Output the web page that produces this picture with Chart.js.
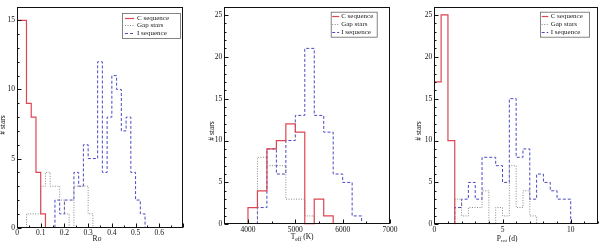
<!DOCTYPE html>
<html>
<head>
<meta charset="utf-8">
<script src="https://cdn.jsdelivr.net/npm/chart.js@4.4.1/dist/chart.umd.min.js"></script>
<style>
    body { margin: 0; background: #fff; }
    canvas { position: absolute; top: 0; }
</style>
</head>
<body>
<canvas id="roChart" width="200" height="242" style="left:0px"></canvas>
<canvas id="teffChart" width="200" height="242" style="left:200px"></canvas>
<canvas id="protChart" width="200" height="242" style="left:400px"></canvas>
<script>
// Rossby number histogram (bin width 0.02)
var roBins = [0, 0.02, 0.04, 0.06, 0.08, 0.10, 0.12, 0.14, 0.16, 0.18, 0.20, 0.22, 0.24, 0.26,
              0.28, 0.30, 0.32, 0.34, 0.36, 0.38, 0.40, 0.42, 0.44, 0.46, 0.48, 0.50, 0.52];
var roBinWidth = 0.02;
var roC   = [15, 15, 9, 8, 4, 1, 0, 0, 0, 0, 0, 0, 0, 0, 0, 0, 0, 0, 0, 0, 0, 0, 0, 0, 0, 0, 0];
var roGap = [0, 0, 1, 1, 1, 3, 4, 3, 3, 2, 1, 0, 3, 3, 3, 1, 0, 0, 0, 0, 0, 0, 0, 0, 0, 0, 0];
var roI   = [0, 0, 0, 0, 0, 0, 0, 0, 2, 1, 2, 2, 4, 3, 6, 5, 5, 12, 4, 8, 11, 10, 7, 8, 4, 2, 1];
var roXTicks = [0, 0.1, 0.2, 0.3, 0.4, 0.5, 0.6];
var roYTicks = [0, 5, 10, 15];

// Teff histogram (bin width 200 K)
var teffBins = [4000, 4200, 4400, 4600, 4800, 5000, 5200, 5400, 5600, 5800, 6000, 6200];
var teffBinWidth = 200;
var teffC   = [2, 4, 9, 10, 12, 11, 0, 3, 1, 0, 0, 0];
var teffGap = [0, 8, 7, 7, 3, 3, 1, 0, 0, 0, 0, 0];
var teffI   = [0, 2, 9, 6, 10, 13, 21, 13, 11, 6, 5, 1];
var teffXTicks = [4000, 5000, 6000, 7000];
var teffYTicks = [0, 5, 10, 15, 20, 25];

// Rotation period histogram (bin width 0.5 d)
var protBins = [0, 0.5, 1, 1.5, 2, 2.5, 3, 3.5, 4, 4.5, 5, 5.5, 6, 6.5, 7, 7.5, 8, 8.5, 9, 9.5];
var protBinWidth = 0.5;
var protC   = [17, 25, 10, 0, 0, 0, 0, 0, 0, 0, 0, 0, 0, 0, 0, 0, 0, 0, 0, 0];
var protGap = [0, 0, 0, 3, 1, 2, 2, 4, 0, 2, 1, 7, 2, 4, 1, 0, 0, 0, 0, 0];
var protI   = [0, 0, 0, 2, 3, 5, 3, 8, 8, 7, 5, 15, 8, 9, 3, 6, 5, 4, 3, 3];
var protXTicks = [0, 5, 10];
var protYTicks = [0, 5, 10, 15, 20, 25];

var seriesNames = ['C sequence', 'Gap stars', 'I sequence'];

var SERIF = '"Liberation Serif", "DejaVu Serif", serif';
var RED = '#dc4652';
var GRAY = '#8a8a8a';
var BLUE = '#4a4ac4';

// turn bin counts into step outline points
function histPoints(bins, width, counts) {
    var first = -1, last = -1;
    for (var i = 0; i < counts.length; i++) {
        if (counts[i] > 0) {
            if (first < 0) first = i;
            last = i;
        }
    }
    var pts = [{ x: bins[first], y: 0 }];
    for (var j = first; j <= last; j++) {
        pts.push({ x: bins[j], y: counts[j] });
    }
    pts.push({ x: bins[last] + width, y: 0 });
    return pts;
}

// frame, inward ticks, boxed legend and axis titles
var decorPlugin = {
    id: 'decor',
    afterDraw: function (chart, args, o) {
        var ctx = chart.ctx;
        var a = chart.chartArea;
        var xs = chart.scales.x, ys = chart.scales.y;
        var L = Math.round(a.left) + 0.5, R = Math.round(a.right) - 0.5;
        var T = Math.round(a.top) + 0.5, B = Math.round(a.bottom) - 0.5;
        ctx.save();
        ctx.strokeStyle = '#111';
        ctx.lineWidth = 1;
        ctx.strokeRect(L, T, R - L, B - T);

        ctx.beginPath();
        var v, px;
        for (v = xs.min; v <= xs.max + 1e-9; v += o.xMinor) {
            px = Math.round(xs.getPixelForValue(v)) + 0.5;
            var major = Math.abs(v / o.xMajor - Math.round(v / o.xMajor)) < 1e-6;
            ctx.moveTo(px, B);
            ctx.lineTo(px, B - (major ? 4 : 2));
        }
        for (v = ys.min; v <= ys.max + 1e-9; v += o.yMinor) {
            px = Math.round(ys.getPixelForValue(v)) + 0.5;
            var ymajor = Math.abs(v / o.yMajor - Math.round(v / o.yMajor)) < 1e-6;
            ctx.moveTo(L, px);
            ctx.lineTo(L + (ymajor ? 4 : 2), px);
        }
        ctx.stroke();

        // legend box
        var lg = o.legend;
        ctx.lineWidth = 0.8;
        ctx.strokeStyle = '#666';
        ctx.strokeRect(lg.x + 0.5, lg.y + 0.5, lg.w, lg.h);
        ctx.font = '7px ' + SERIF;
        ctx.textBaseline = 'middle';
        ctx.textAlign = 'left';
        chart.data.datasets.forEach(function (ds, i) {
            var y = Math.round(lg.y + lg.rows[i]) + 0.5;
            ctx.beginPath();
            ctx.strokeStyle = ds.borderColor;
            ctx.lineWidth = ds.borderWidth;
            ctx.setLineDash(ds.borderDash || []);
            ctx.moveTo(lg.x + lg.s0, y);
            ctx.lineTo(lg.x + lg.s1, y);
            ctx.stroke();
            ctx.setLineDash([]);
            ctx.fillStyle = '#222';
            ctx.fillText(ds.label, lg.x + lg.t, y);
        });

        // x title with optional subscript
        var xt = o.xTitle;
        var bigFont = '7.5px ' + SERIF, smallFont = '5.5px ' + SERIF;
        ctx.fillStyle = '#111';
        ctx.textBaseline = 'alphabetic';
        var total = 0;
        xt.parts.forEach(function (p) {
            ctx.font = p[1] ? smallFont : bigFont;
            total += ctx.measureText(p[0]).width;
        });
        var cx = (a.left + a.right) / 2 + xt.dx - total / 2;
        xt.parts.forEach(function (p) {
            ctx.font = p[1] ? smallFont : bigFont;
            ctx.fillText(p[0], cx, xt.y + (p[1] ? 2 : 0));
            cx += ctx.measureText(p[0]).width;
        });

        // y title
        ctx.font = bigFont;
        ctx.textAlign = 'center';
        ctx.textBaseline = 'middle';
        ctx.translate(o.yTitle.x, o.yTitle.y);
        ctx.rotate(-Math.PI / 2);
        ctx.fillText('# stars', 0, 0);
        ctx.restore();
    }
};

function makeChart(id, bins, width, c, gap, ii, xr, yr, xTicks, yTicks, geo, decor) {
    var ctx = document.getElementById(id).getContext('2d');
    return new Chart(ctx, {
        type: 'line',
        data: {
            datasets: [
                { label: seriesNames[0], data: histPoints(bins, width, c), borderColor: RED, borderWidth: 1.2 },
                { label: seriesNames[1], data: histPoints(bins, width, gap), borderColor: GRAY, borderWidth: 1, borderDash: [1, 1.5] },
                { label: seriesNames[2], data: histPoints(bins, width, ii), borderColor: BLUE, borderWidth: 1, borderDash: [3, 2] }
            ]
        },
        options: {
            responsive: false,
            animation: false,
            elements: { point: { radius: 0 }, line: { stepped: 'before', fill: false } },
            layout: { padding: { top: geo.top, right: geo.right, left: 0, bottom: 0 } },
            plugins: { legend: { display: false }, tooltip: { enabled: false }, decor: decor },
            scales: {
                x: {
                    type: 'linear', min: xr[0], max: xr[1],
                    grid: { display: false, drawTicks: false }, border: { display: false },
                    afterBuildTicks: function (s) { s.ticks = xTicks.map(function (v) { return { value: v }; }); },
                    afterFit: function (s) { s.height = geo.xh; },
                    ticks: {
                        autoSkip: false, maxRotation: 0, padding: 1, color: '#111',
                        font: { family: SERIF, size: 7.5 },
                        callback: function (v) { return String(v); }
                    }
                },
                y: {
                    min: yr[0], max: yr[1],
                    grid: { display: false, drawTicks: false }, border: { display: false },
                    afterBuildTicks: function (s) { s.ticks = yTicks.map(function (v) { return { value: v }; }); },
                    afterFit: function (s) { s.width = geo.yw; },
                    ticks: {
                        autoSkip: false, padding: 2, color: '#111',
                        font: { family: SERIF, size: 7.5 },
                        callback: function (v) { return String(v); }
                    }
                }
            }
        },
        plugins: [decorPlugin]
    });
}

makeChart('roChart', roBins, roBinWidth, roC, roGap, roI, [0, 0.7], [0, 16], roXTicks, roYTicks,
    { top: 3.3, right: 17, xh: 14.3, yw: 17 },
    {
        xMajor: 0.1, xMinor: 0.05, yMajor: 5, yMinor: 1,
        legend: { x: 122, y: 13, w: 58, h: 25, rows: [4.7, 12, 20.3], s0: 3, s1: 12, t: 15 },
        xTitle: { parts: [['Ro', false]], dx: -3, y: 241 },
        yTitle: { x: 3.5, y: 125 }
    });

makeChart('teffChart', teffBins, teffBinWidth, teffC, teffGap, teffI, [3500, 7000], [0, 26], teffXTicks, teffYTicks,
    { top: 3.3, right: 10, xh: 17.7, yw: 24.3 },
    {
        xMajor: 1000, xMinor: 500, yMajor: 5, yMinor: 1,
        legend: { x: 130.7, y: 11.7, w: 46, h: 25, rows: [4.5, 12.4, 20.5], s0: 1.5, s1: 8.5, t: 10.5 },
        xTitle: { parts: [['T', false], ['eff', true], [' (K)', false]], dx: -5, y: 238.5 },
        yTitle: { x: 12, y: 131 }
    });

makeChart('protChart', protBins, protBinWidth, protC, protGap, protI, [0, 12], [0, 26], protXTicks, protYTicks,
    { top: 3.3, right: 2, xh: 17.7, yw: 34.3 },
    {
        xMajor: 5, xMinor: 1, yMajor: 5, yMinor: 1,
        legend: { x: 140, y: 11.7, w: 49, h: 25, rows: [4.5, 12.4, 20.5], s0: 1.7, s1: 8.3, t: 10.7 },
        xTitle: { parts: [['P', false], ['rot', true], [' (d)', false]], dx: -9, y: 240.5 },
        yTitle: { x: 19, y: 131 }
    });
</script>
</body>
</html>
